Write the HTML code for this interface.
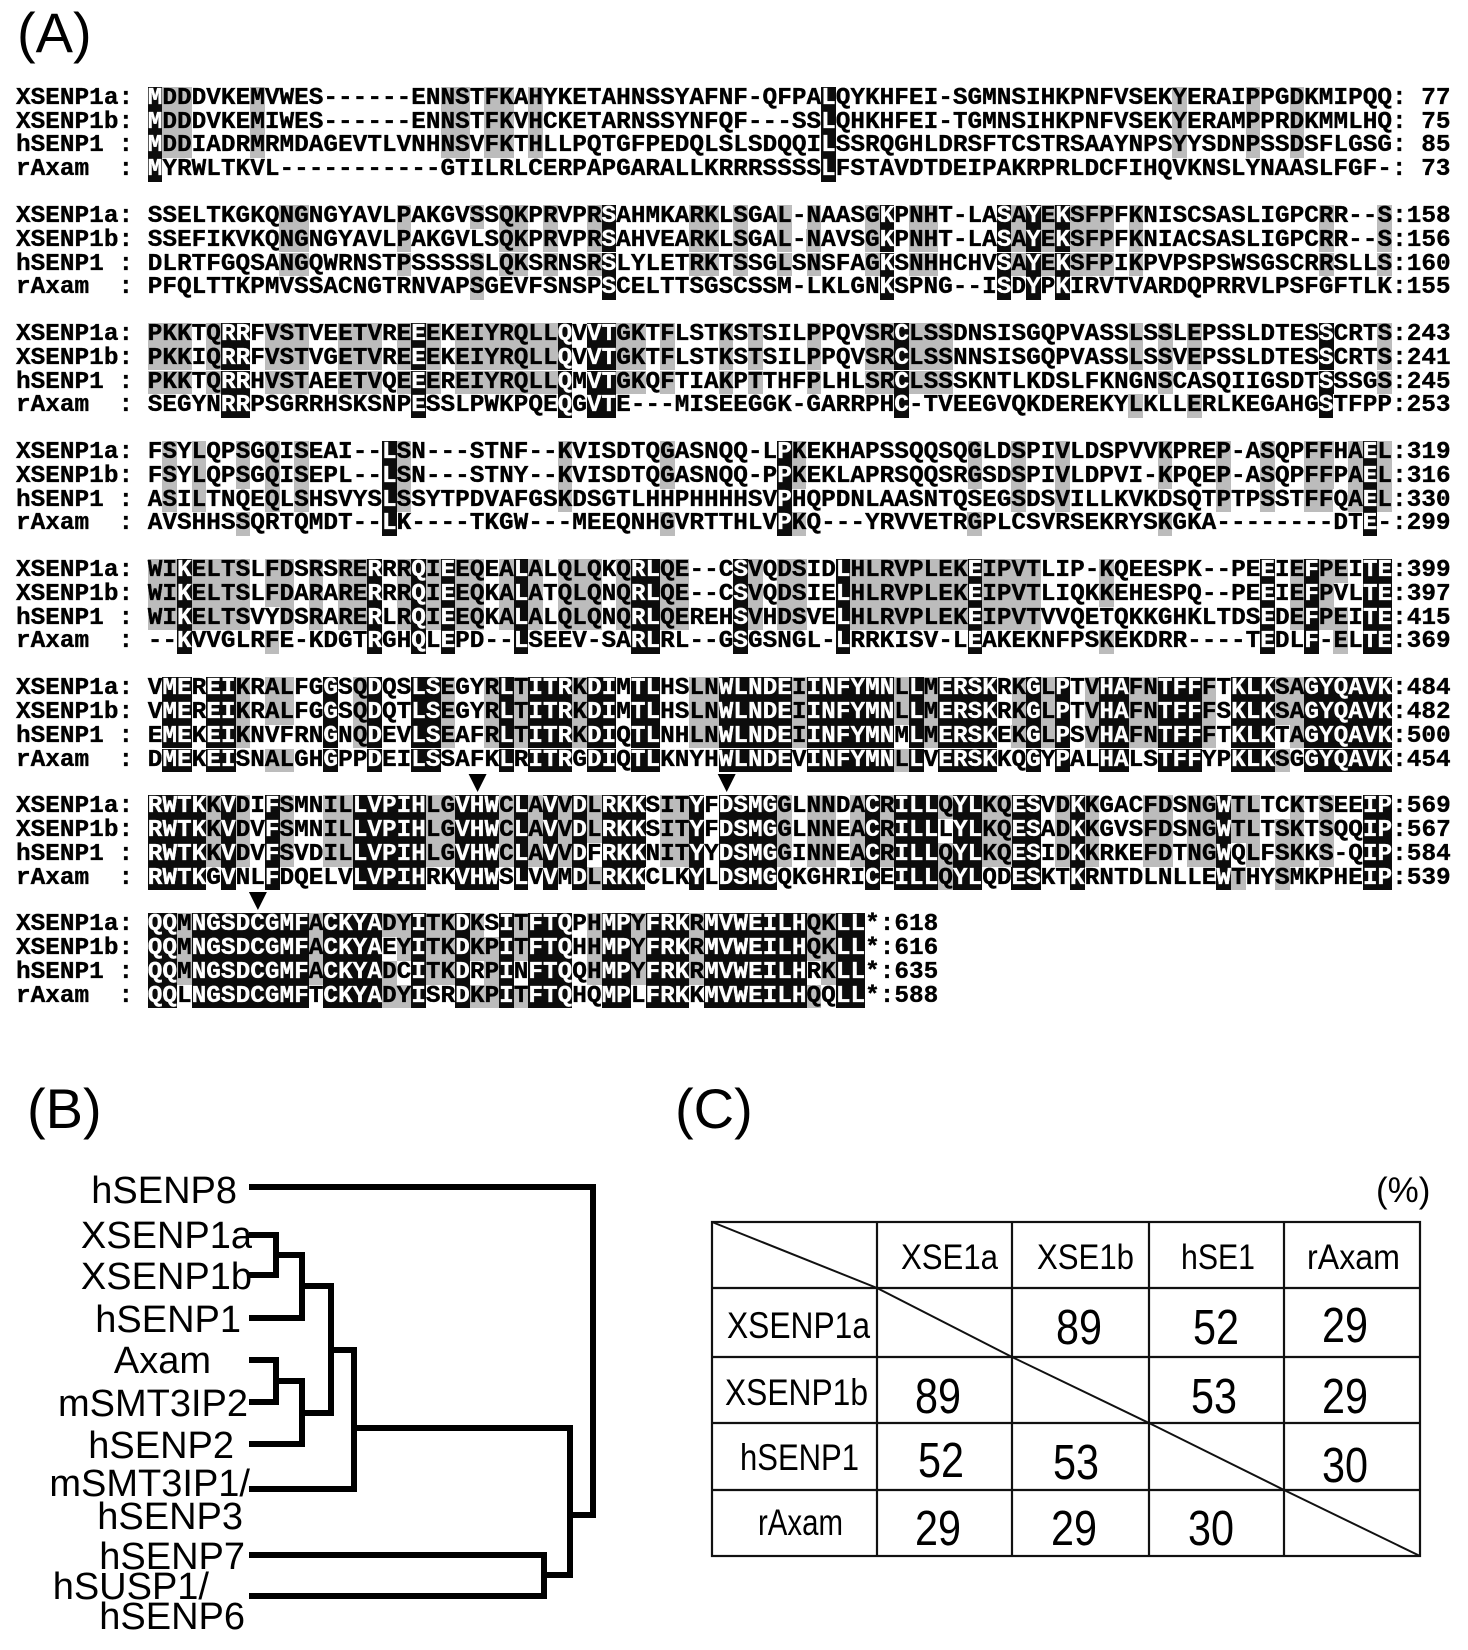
<!DOCTYPE html>
<html><head><meta charset="utf-8">
<style>
html,body{margin:0;padding:0;background:#fff;}
body{width:1468px;height:1650px;position:relative;overflow:hidden;}
.r{position:absolute;left:16px;height:23.8px;line-height:23.8px;white-space:pre;font-family:"Liberation Mono","DejaVu Sans Mono",monospace;font-weight:bold;font-size:24.4px;color:#000;-webkit-text-stroke:0.35px currentColor;}
.b{background:#0c0c0c;color:#fff;display:inline-block;height:23.8px;line-height:23.8px;vertical-align:top;}
.g{background:#bcbcbc;display:inline-block;height:23.8px;line-height:23.8px;vertical-align:top;}
svg{position:absolute;left:0;top:0;}
</style></head><body>
<svg width="1468" height="1650" xmlns="http://www.w3.org/2000/svg">
<g font-family="Liberation Sans, Arial, sans-serif" fill="#000">
<text x="17" y="52" font-size="56">(A)</text>
<text x="27" y="1128" font-size="56">(B)</text>
<text x="675" y="1128" font-size="56">(C)</text>
</g>
<!-- arrowheads -->
<polygon points="468.6,774 486.6,774 477.6,792" fill="#000"/>
<polygon points="717.7,774 735.7,774 726.7,792" fill="#000"/>
<polygon points="248.9,892 266.9,892 257.9,910" fill="#000"/>
<!-- tree -->
<g fill="none" stroke="#000" stroke-width="6" stroke-linecap="square" stroke-linejoin="miter">
<path d="M252 1187 H593 V1515 H570"/>
<path d="M252 1235 H276 V1275 H252"/>
<path d="M276 1255 H302"/>
<path d="M302 1255 V1318 H252"/>
<path d="M302 1286 H331"/>
<path d="M252 1360 H276 V1402 H252"/>
<path d="M276 1381 H302"/>
<path d="M302 1381 V1444 H252"/>
<path d="M302 1413 H331"/>
<path d="M331 1286 V1413"/>
<path d="M331 1350 H354"/>
<path d="M354 1350 V1489 H252"/>
<path d="M354 1428 H570"/>
<path d="M252 1555 H544 V1596 H252"/>
<path d="M544 1575 H570"/>
<path d="M570 1428 V1575"/>
</g>
<g font-family="Liberation Sans, Arial, sans-serif" font-size="38" fill="#000" text-anchor="end">
<text x="237" y="1203">hSENP8</text>
<text x="252" y="1248">XSENP1a</text>
<text x="252" y="1289">XSENP1b</text>
<text x="241" y="1332">hSENP1</text>
<text x="211" y="1373">Axam</text>
<text x="248" y="1416">mSMT3IP2</text>
<text x="234" y="1458">hSENP2</text>
<text x="250" y="1496">mSMT3IP1/</text>
<text x="243" y="1529">hSENP3</text>
<text x="245" y="1569">hSENP7</text>
<text x="209" y="1599">hSUSP1/</text>
<text x="245" y="1629">hSENP6</text>
</g>
<!-- table -->
<g fill="none" stroke="#111" stroke-width="2.2">
<rect x="712" y="1222" width="708" height="334"/>
<path d="M877 1222 V1556 M1012 1222 V1556 M1149 1222 V1556 M1284 1222 V1556"/>
<path d="M712 1288 H1420 M712 1357 H1420 M712 1423 H1420 M712 1490 H1420"/>
<polyline points="712,1222 877,1288 1012,1357 1149,1423 1284,1490 1420,1556" stroke-width="2"/>
</g>
<g font-family="Liberation Sans, Arial, sans-serif" fill="#000">
<text x="1376" y="1202" font-size="35">(%)</text>
<text x="901" y="1269" font-size="35" textLength="97" lengthAdjust="spacingAndGlyphs">XSE1a</text>
<text x="1037" y="1269" font-size="35" textLength="97" lengthAdjust="spacingAndGlyphs">XSE1b</text>
<text x="1181" y="1269" font-size="35" textLength="74" lengthAdjust="spacingAndGlyphs">hSE1</text>
<text x="1307" y="1269" font-size="35" textLength="93" lengthAdjust="spacingAndGlyphs">rAxam</text>
<text x="727" y="1338" font-size="37" textLength="143" lengthAdjust="spacingAndGlyphs">XSENP1a</text>
<text x="725" y="1405" font-size="37" textLength="143" lengthAdjust="spacingAndGlyphs">XSENP1b</text>
<text x="740" y="1470" font-size="37" textLength="119" lengthAdjust="spacingAndGlyphs">hSENP1</text>
<text x="758" y="1535" font-size="37" textLength="85" lengthAdjust="spacingAndGlyphs">rAxam</text>
<g font-size="49">
<text x="1056" y="1344" textLength="46" lengthAdjust="spacingAndGlyphs">89</text>
<text x="1193" y="1344" textLength="46" lengthAdjust="spacingAndGlyphs">52</text>
<text x="1322" y="1342" textLength="46" lengthAdjust="spacingAndGlyphs">29</text>
<text x="915" y="1413" textLength="46" lengthAdjust="spacingAndGlyphs">89</text>
<text x="1191" y="1413" textLength="46" lengthAdjust="spacingAndGlyphs">53</text>
<text x="1322" y="1413" textLength="46" lengthAdjust="spacingAndGlyphs">29</text>
<text x="918" y="1477" textLength="46" lengthAdjust="spacingAndGlyphs">52</text>
<text x="1053" y="1479" textLength="46" lengthAdjust="spacingAndGlyphs">53</text>
<text x="1322" y="1482" textLength="46" lengthAdjust="spacingAndGlyphs">30</text>
<text x="915" y="1545" textLength="46" lengthAdjust="spacingAndGlyphs">29</text>
<text x="1051" y="1545" textLength="46" lengthAdjust="spacingAndGlyphs">29</text>
<text x="1188" y="1545" textLength="46" lengthAdjust="spacingAndGlyphs">30</text>
</g>
</g>
</svg>

<div class="blk">
<div class="r" style="top:86.8px">XSENP1a: <span class="sq">MDDDVKEMVWES------ENNSTFKAHYKETAHNSSYAFNF-QFPALQYKHFEI-SGMNSIHKPNFVSEKYERAIPPGDKMIPQQ</span>: 77</div>
<div class="r" style="top:110.6px">XSENP1b: <span class="sq">MDDDVKEMIWES------ENNSTFKVHCKETARNSSYNFQF---SSLQHKHFEI-TGMNSIHKPNFVSEKYERAMPPRDKMMLHQ</span>: 75</div>
<div class="r" style="top:134.4px">hSENP1 : <span class="sq">MDDIADRMRMDAGEVTLVNHNSVFKTHLLPQTGFPEDQLSLSDQQILSSRQGHLDRSFTCSTRSAAYNPSYYSDNPSSDSFLGSG</span>: 85</div>
<div class="r" style="top:158.2px">rAxam  : <span class="sq">MYRWLTKVL-----------GTILRLCERPAPGARALLKRRRSSSSLFSTAVDTDEIPAKRPRLDCFIHQVKNSLYNAASLFGF-</span>: 73</div>
</div>

<div class="blk">
<div class="r" style="top:204.9px">XSENP1a: <span class="sq">SSELTKGKQNGNGYAVLPAKGVSSQKPRVPRSAHMKARKLSGAL-NAASGKPNHT-LASAYEKSFPFKNISCSASLIGPCRR--S</span>:158</div>
<div class="r" style="top:228.7px">XSENP1b: <span class="sq">SSEFIKVKQNGNGYAVLPAKGVLSQKPRVPRSAHVEARKLSGAL-NAVSGKPNHT-LASAYEKSFPFKNIACSASLIGPCRR--S</span>:156</div>
<div class="r" style="top:252.5px">hSENP1 : <span class="sq">DLRTFGQSANGQWRNSTPSSSSSLQKSRNSRSLYLETRKTSSGLSNSFAGKSNHHCHVSAYEKSFPIKPVPSPSWSGSCRRSLLS</span>:160</div>
<div class="r" style="top:276.3px">rAxam  : <span class="sq">PFQLTTKPMVSSACNGTRNVAPSGEVFSNSPSCELTTSGSCSSM-LKLGNKSPNG--ISDYPKIRVTVARDQPRRVLPSFGFTLK</span>:155</div>
</div>

<div class="blk">
<div class="r" style="top:322.9px">XSENP1a: <span class="sq">PKKTQRRFVSTVEETVREEEKEIYRQLLQVVTGKTFLSTKSTSILPPQVSRCLSSDNSISGQPVASSLSSLEPSSLDTESSCRTS</span>:243</div>
<div class="r" style="top:346.7px">XSENP1b: <span class="sq">PKKIQRRFVSTVGETVREEEKEIYRQLLQVVTGKTFLSTKSTSILPPQVSRCLSSNNSISGQPVASSLSSVEPSSLDTESSCRTS</span>:241</div>
<div class="r" style="top:370.5px">hSENP1 : <span class="sq">PKKTQRRHVSTAEETVQEEEREIYRQLLQMVTGKQFTIAKPTTHFPLHLSRCLSSSKNTLKDSLFKNGNSCASQIIGSDTSSSGS</span>:245</div>
<div class="r" style="top:394.3px">rAxam  : <span class="sq">SEGYNRRPSGRRHSKSNPESSLPWKPQEQGVTE---MISEEGGK-GARRPHC-TVEEGVQKDEREKYLKLLERLKEGAHGSTFPP</span>:253</div>
</div>

<div class="blk">
<div class="r" style="top:441.0px">XSENP1a: <span class="sq">FSYLQPSGQISEAI--LSN---STNF--KVISDTQGASNQQ-LPKEKHAPSSQQSQGLDSPIVLDSPVVKPREP-ASQPFFHAEL</span>:319</div>
<div class="r" style="top:464.8px">XSENP1b: <span class="sq">FSYLQPSGQISEPL--LSN---STNY--KVISDTQGASNQQ-PPKEKLAPRSQQSRGSDSPIVLDPVI-KPQEP-ASQPFFPAEL</span>:316</div>
<div class="r" style="top:488.6px">hSENP1 : <span class="sq">ASILTNQEQLSHSVYSLSSYTPDVAFGSKDSGTLHHPHHHHSVPHQPDNLAASNTQSEGSDSVILLKVKDSQTPTPSSTFFQAEL</span>:330</div>
<div class="r" style="top:512.4px">rAxam  : <span class="sq">AVSHHSSQRTQMDT--LK----TKGW---MEEQNHGVRTTHLVPKQ---YRVVETRGPLCSVRSEKRYSKGKA--------DTE-</span>:299</div>
</div>

<div class="blk">
<div class="r" style="top:559.0px">XSENP1a: <span class="sq">WIKELTSLFDSRSRERRRQIEEQEALALQLQKQRLQE--CSVQDSIDLHLRVPLEKEIPVTLIP-KQEESPK--PEEIEFPEITE</span>:399</div>
<div class="r" style="top:582.8px">XSENP1b: <span class="sq">WIKELTSLFDARARERRRQIEEQKALATQLQNQRLQE--CSVQDSIELHLRVPLEKEIPVTLIQKKEHESPQ--PEEIEFPVLTE</span>:397</div>
<div class="r" style="top:606.6px">hSENP1 : <span class="sq">WIKELTSVYDSRARERLRQIEEQKALALQLQNQRLQEREHSVHDSVELHLRVPLEKEIPVTVVQETQKKGHKLTDSEDEFPEITE</span>:415</div>
<div class="r" style="top:630.4px">rAxam  : <span class="sq">--KVVGLRFE-KDGTRGHQLEPD--LSEEV-SARLRL--GSGSNGL-LRRKISV-LEAKEKNFPSKEKDRR----TEDLF-ELTE</span>:369</div>
</div>

<div class="blk">
<div class="r" style="top:677.1px">XSENP1a: <span class="sq">VMEREIKRALFGGSQDQSLSEGYRLTITRKDIMTLHSLNWLNDEIINFYMNLLMERSKRKGLPTVHAFNTFFFTKLKSAGYQAVK</span>:484</div>
<div class="r" style="top:700.9px">XSENP1b: <span class="sq">VMEREIKRALFGGSQDQTLSEGYRLTITRKDIMTLHSLNWLNDEIINFYMNLLMERSKRKGLPTVHAFNTFFFSKLKSAGYQAVK</span>:482</div>
<div class="r" style="top:724.7px">hSENP1 : <span class="sq">EMEKEIKNVFRNGNQDEVLSEAFRLTITRKDIQTLNHLNWLNDEIINFYMNMLMERSKEKGLPSVHAFNTFFFTKLKTAGYQAVK</span>:500</div>
<div class="r" style="top:748.5px">rAxam  : <span class="sq">DMEKEISNALGHGPPDEILSSAFKLRITRGDIQTLKNYHWLNDEVINFYMNLLVERSKKQGYPALHALSTFFYPKLKSGGYQAVK</span>:454</div>
</div>

<div class="blk">
<div class="r" style="top:795.2px">XSENP1a: <span class="sq">RWTKKVDIFSMNILLVPIHLGVHWCLAVVDLRKKSITYFDSMGGLNNDACRILLQYLKQESVDKKGACFDSNGWTLTCKTSEEIP</span>:569</div>
<div class="r" style="top:819.0px">XSENP1b: <span class="sq">RWTKKVDVFSMNILLVPIHLGVHWCLAVVDLRKKSITYFDSMGGLNNEACRILLLYLKQESADKKGVSFDSNGWTLTSKTSQQIP</span>:567</div>
<div class="r" style="top:842.8px">hSENP1 : <span class="sq">RWTKKVDVFSVDILLVPIHLGVHWCLAVVDFRKKNITYYDSMGGINNEACRILLQYLKQESIDKKRKEFDTNGWQLFSKKS-QIP</span>:584</div>
<div class="r" style="top:866.6px">rAxam  : <span class="sq">RWTKGVNLFDQELVLVPIHRKVHWSLVVMDLRKKCLKYLDSMGQKGHRICEILLQYLQDESKTKRNTDLNLLEWTHYSMKPHEIP</span>:539</div>
</div>

<div class="blk">
<div class="r" style="top:913.2px">XSENP1a: <span class="sq">QQMNGSDCGMFACKYADYITKDKSITFTQPHMPYFRKRMVWEILHQKLL*</span>:618</div>
<div class="r" style="top:937.0px">XSENP1b: <span class="sq">QQMNGSDCGMFACKYAEYITKDKPITFTQHHMPYFRKRMVWEILHQKLL*</span>:616</div>
<div class="r" style="top:960.8px">hSENP1 : <span class="sq">QQMNGSDCGMFACKYADCITKDRPINFTQQHMPYFRKRMVWEILHRKLL*</span>:635</div>
<div class="r" style="top:984.6px">rAxam  : <span class="sq">QQLNGSDCGMFTCKYADYISRDKPITFTQHQMPLFRKKMVWEILHQQLL*</span>:588</div>
</div>

<script>
(function(){
  function flush(k,t){ if(!t) return ''; return k ? '<span class="'+k+'">'+t+'</span>' : t; }
  var blks = document.querySelectorAll('.blk');
  for (var b=0;b<blks.length;b++){
    var rows = blks[b].querySelectorAll('.sq');
    var s = [];
    for (var i=0;i<rows.length;i++) s.push(rows[i].textContent);
    var n = 0; for (var i=0;i<s.length;i++) if (s[i].length>n) n=s[i].length;
    var cls = s.map(function(){return [];});
    for (var c=0;c<n;c++){
      var cnt = {};
      for (var i=0;i<s.length;i++){ var ch=s[i].charAt(c); if (/[A-Z]/.test(ch)) cnt[ch]=(cnt[ch]||0)+1; }
      var best=null, bc=0;
      for (var k in cnt) if (cnt[k]>bc){ bc=cnt[k]; best=k; }
      for (var i=0;i<s.length;i++){
        var ch=s[i].charAt(c);
        cls[i][c] = (ch===best && bc>=4) ? 'b' : (ch===best && bc===3) ? 'g' : '';
      }
    }
    for (var i=0;i<rows.length;i++){
      var html='', cur='', run='';
      for (var c=0;c<s[i].length;c++){
        var k=cls[i][c];
        if (k!==cur){ html+=flush(cur,run); cur=k; run=''; }
        run+=s[i].charAt(c);
      }
      html+=flush(cur,run);
      rows[i].innerHTML=html;
    }
  }
})();
</script>
</body></html>
